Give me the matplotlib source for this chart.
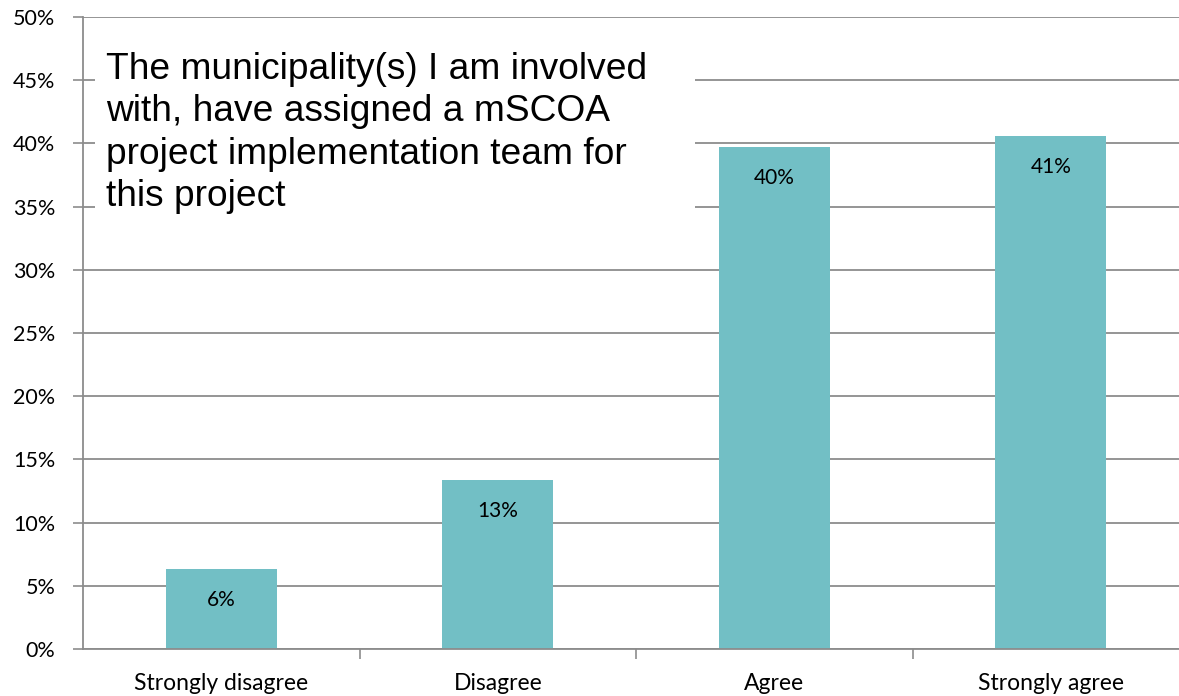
import matplotlib.pyplot as plt
import matplotlib as mpl
from matplotlib.patches import Rectangle
from matplotlib.ticker import FuncFormatter

categories = ['Strongly disagree', 'Disagree', 'Agree', 'Strongly agree']
values = [6.3, 13.4, 39.7, 40.6]
labels = ['6%', '13%', '40%', '41%']
title = ('The municipality(s) I am involved\nwith, have assigned a mSCOA\n'
         'project implementation team for\nthis project')

mpl.rcParams['font.family'] = ['Lato', 'DejaVu Sans']

W, H = 1179, 696
fig = plt.figure(figsize=(W / 100, H / 100), dpi=100)
ax = fig.add_axes([83 / W, 1 - 649 / H, (W - 83) / W, (649 - 17) / H])

bar_color = '#72BFC5'
grid_color = '#8C8C8C'

x = range(len(categories))
ax.bar(x, values, width=0.40, color=bar_color, zorder=2)
for i, (v, lab) in enumerate(zip(values, labels)):
    ax.annotate(lab, (i, v), xytext=(0, -31), textcoords='offset pixels',
                ha='center', va='center', fontsize=15, color='black', zorder=3)

ax.set_xlim(-0.5, -0.5 + (W - 83) / 276.5)
ax.set_ylim(0, 50)
ax.set_yticks(range(0, 51, 5))
ax.yaxis.set_major_formatter(FuncFormatter(lambda v, p: '%d%%' % v))
ax.set_xticks([0, 1, 2, 3])
ax.set_xticklabels(categories, fontsize=16.5)
ax.set_xticks([0.5, 1.5, 2.5], minor=True)
ax.tick_params(axis='x', which='major', length=0, pad=17)
ax.tick_params(axis='x', which='minor', length=7, color=grid_color, width=1.2)
ax.tick_params(axis='y', length=7, color=grid_color, width=1.2, labelsize=15.5, pad=13)

ax.grid(axis='y', color=grid_color, linewidth=1.3)
ax.set_axisbelow(True)
for side in ['top', 'right']:
    ax.spines[side].set_visible(False)
for side in ['left', 'bottom']:
    ax.spines[side].set_color(grid_color)
    ax.spines[side].set_linewidth(1.3)

# white box behind the question text
fig.patches.append(Rectangle((95 / W, 1 - 240 / H), 600 / W, 215 / H,
                             transform=fig.transFigure, facecolor='white',
                             edgecolor='none', zorder=1))
fig.text(106 / W, 1 - 52 / H, title, ha='left', va='top', fontsize=26.7,
         family=['Liberation Sans', 'DejaVu Sans'], linespacing=1.27, zorder=5)

fig.savefig('out.png', dpi=100)
